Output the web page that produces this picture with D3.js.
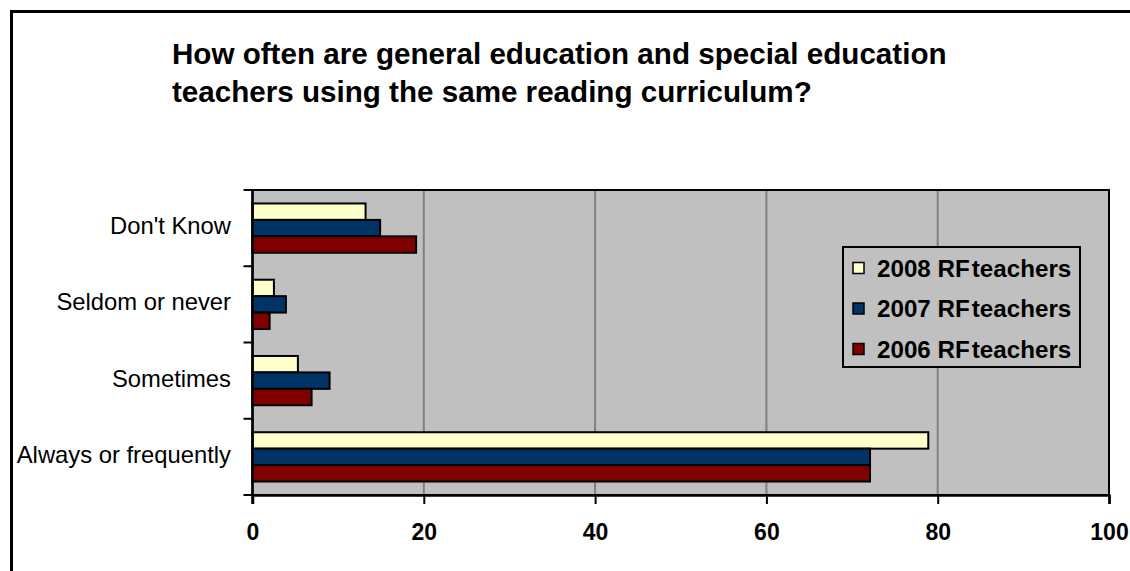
<!DOCTYPE html>
<html>
<head>
<meta charset="utf-8">
<script src="https://cdn.jsdelivr.net/npm/d3@7"></script>
<style>
  html, body { margin: 0; padding: 0; background: #ffffff; }
  svg { display: block; font-family: Arial, "Liberation Sans", sans-serif; }
</style>
</head>
<body>
<svg id="chart" width="1130" height="571"></svg>
<script>
// Survey answers, top to bottom
const categories = ["Don't Know", "Seldom or never", "Sometimes", "Always or frequently"];
// Legend / series order
const seriesNames = ["2008 RF teachers", "2007 RF teachers", "2006 RF teachers"];
const seriesColors = ["#FFFFCC", "#003366", "#800000"];
// Percent of teachers per answer, one array per survey year (same order as categories)
const values2008 = [13.2, 2.5, 5.3, 78.9];
const values2007 = [14.9, 3.9, 9.0, 72.1];
const values2006 = [19.1, 2.0, 6.9, 72.1];
const xTicks = [0, 20, 40, 60, 80, 100];
const titleLines = [
  "How often are general education and special education",
  "teachers using the same reading curriculum?"
];

const seriesValues = [values2008, values2007, values2006];

const svg = d3.select("#chart");
const plot = { left: 252.5, right: 1109, top: 190, bottom: 495 };

// Outer frame (open to the right and bottom)
svg.append("path")
  .attr("d", "M11.5,580 L11.5,11.5 L1140,11.5")
  .attr("fill", "none").attr("stroke", "#000").attr("stroke-width", 3);

// Title
const title = svg.append("text")
  .attr("font-weight", "bold").attr("font-size", 29.6).attr("fill", "#000");
titleLines.forEach((t, i) => {
  title.append("tspan").attr("x", 172).attr("y", 64 + i * 38).text(t);
});

const x = d3.scaleLinear().domain([0, 100]).range([plot.left, plot.right]);
const y0 = d3.scaleBand().domain(categories).range([plot.top, plot.bottom]).padding(0);
const y1 = d3.scaleBand().domain(seriesNames).range([0, y0.bandwidth()])
  .paddingInner(0).paddingOuter(0.82);

// Plot background
svg.append("rect")
  .attr("x", plot.left).attr("y", plot.top)
  .attr("width", plot.right - plot.left).attr("height", plot.bottom - plot.top)
  .attr("fill", "#C0C0C0");

// Vertical gridlines
svg.append("g").selectAll("line")
  .data(xTicks.filter(d => d > 0 && d < 100))
  .join("line")
  .attr("x1", d => x(d)).attr("x2", d => x(d))
  .attr("y1", plot.top).attr("y2", plot.bottom)
  .attr("stroke", "#808080").attr("stroke-width", 2);

// Bars
const groups = svg.append("g").selectAll("g")
  .data(categories)
  .join("g")
  .attr("transform", d => `translate(0,${y0(d)})`);

groups.selectAll("rect")
  .data((c, ci) => seriesNames.map((s, si) => ({ s, si, v: seriesValues[si][ci] })))
  .join("rect")
  .attr("x", x(0))
  .attr("y", d => y1(d.s))
  .attr("width", d => x(d.v) - x(0))
  .attr("height", y1.bandwidth())
  .attr("fill", d => seriesColors[d.si])
  .attr("stroke", "#000").attr("stroke-width", 2);

// Plot border
svg.append("rect")
  .attr("x", plot.left).attr("y", plot.top)
  .attr("width", plot.right - plot.left).attr("height", plot.bottom - plot.top)
  .attr("fill", "none").attr("stroke", "#000").attr("stroke-width", 2);

// X axis
const xAxis = svg.append("g")
  .attr("transform", `translate(0,${plot.bottom})`)
  .call(d3.axisBottom(x).tickValues(xTicks).tickSize(9).tickPadding(20).tickFormat(d3.format("d")));
xAxis.select(".domain").attr("stroke", "#000").attr("stroke-width", 2.5);
xAxis.selectAll(".tick line").attr("stroke", "#000").attr("stroke-width", 2);
xAxis.selectAll(".tick text")
  .attr("font-size", 23).attr("font-weight", "bold").attr("fill", "#000")
  .attr("font-family", "Arial, 'Liberation Sans', sans-serif");

// Y axis: ticks at category boundaries
const boundaries = categories.map(c => y0(c)).concat([plot.bottom]);
svg.append("g").selectAll("line")
  .data(boundaries)
  .join("line")
  .attr("x1", plot.left - 9).attr("x2", plot.left)
  .attr("y1", d => d).attr("y2", d => d)
  .attr("stroke", "#000").attr("stroke-width", 2);
svg.append("line")
  .attr("x1", plot.left).attr("x2", plot.left)
  .attr("y1", plot.top).attr("y2", plot.bottom + 9)
  .attr("stroke", "#000").attr("stroke-width", 2.5);

// Category labels
svg.append("g").selectAll("text")
  .data(categories)
  .join("text")
  .attr("x", 231)
  .attr("y", d => y0(d) + y0.bandwidth() / 2 + 6)
  .attr("text-anchor", "end")
  .attr("font-size", 23.8).attr("fill", "#000")
  .text(d => d);

// Legend
const legend = svg.append("g");
legend.append("rect")
  .attr("x", 843).attr("y", 247).attr("width", 237).attr("height", 120)
  .attr("fill", "#C0C0C0").attr("stroke", "#000").attr("stroke-width", 2);
const items = legend.selectAll("g.item")
  .data(seriesNames)
  .join("g").attr("class", "item")
  .attr("transform", (d, i) => `translate(0,${268 + i * 40.5})`);
items.append("rect")
  .attr("x", 853).attr("y", -5.5).attr("width", 11).attr("height", 11)
  .attr("fill", (d, i) => seriesColors[i]).attr("stroke", "#000").attr("stroke-width", 1.5);
const labels = items.append("text")
  .attr("x", 877).attr("y", 8.5)
  .attr("font-size", 24.2).attr("font-weight", "bold").attr("fill", "#000");
// "RF" and "teachers" sit close together
labels.append("tspan").text(d => d.slice(0, d.lastIndexOf(" ")));
labels.append("tspan").attr("dx", 2).text(d => d.slice(d.lastIndexOf(" ") + 1));
</script>
</body>
</html>
